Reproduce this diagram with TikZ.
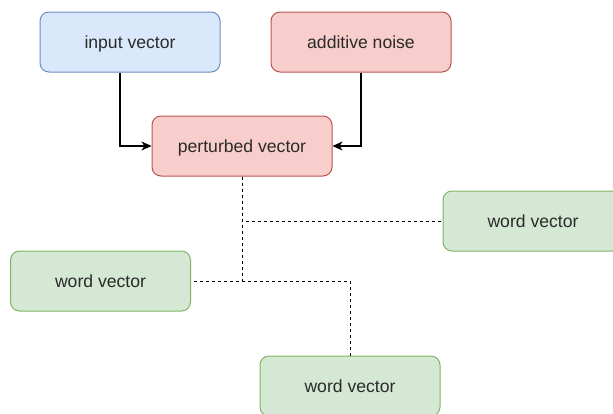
\documentclass[tikz,border=0pt]{standalone}
\usepackage{fontspec}
\setmainfont{Liberation Sans}
\usetikzlibrary{arrows.meta}
\definecolor{bluefill}{HTML}{DAE8FC}
\definecolor{bluedraw}{HTML}{6C8EBF}
\definecolor{redfill}{HTML}{F8CECC}
\definecolor{reddraw}{HTML}{B85450}
\definecolor{greenfill}{HTML}{D5E8D4}
\definecolor{greendraw}{HTML}{82B366}
\definecolor{txt}{HTML}{2A2A2A}
\begin{document}
\begin{tikzpicture}[x=1pt,y=-1pt,
  box/.style={rectangle, rounded corners=9pt, minimum width=180pt, minimum height=60pt,
    inner sep=0pt, line width=1pt, text=txt, text height=12.8pt, text depth=0.8pt,
    font=\fontsize{17.6pt}{20pt}\selectfont},
  bluebox/.style={box, fill=bluefill, draw=bluedraw},
  redbox/.style={box, fill=redfill, draw=reddraw},
  greenbox/.style={box, fill=greenfill, draw=greendraw},
  arr/.style={line width=1.1pt, -{Stealth[length=10pt, width=9pt, inset=3pt]}},
  dsh/.style={line width=1pt, dash pattern=on 3pt off 3pt}]
\useasboundingbox (0,0) rectangle (613,413);
\clip (0,0) rectangle (613,413);
\node[bluebox] (in) at (130,42) {input vector};
\node[redbox] (noise) at (361,42) {additive noise};
\node[redbox] (pert) at (242,146) {perturbed vector};
\node[greenbox] (wr) at (533,221) {word vector};
\node[greenbox] (wl) at (100.5,281) {word vector};
\node[greenbox] (wb) at (350,386) {word vector};
\draw[arr] ([xshift=-10pt]in.south) |- (pert.west);
\draw[arr] (noise.south) |- (pert.east);
\draw[dsh] (pert.south) |- (wr.west);
\draw[dsh] (pert.south) |- (wl.east);
\draw[dsh] (pert.south |- wl.east) -| (wb.north);
\end{tikzpicture}
\end{document}
